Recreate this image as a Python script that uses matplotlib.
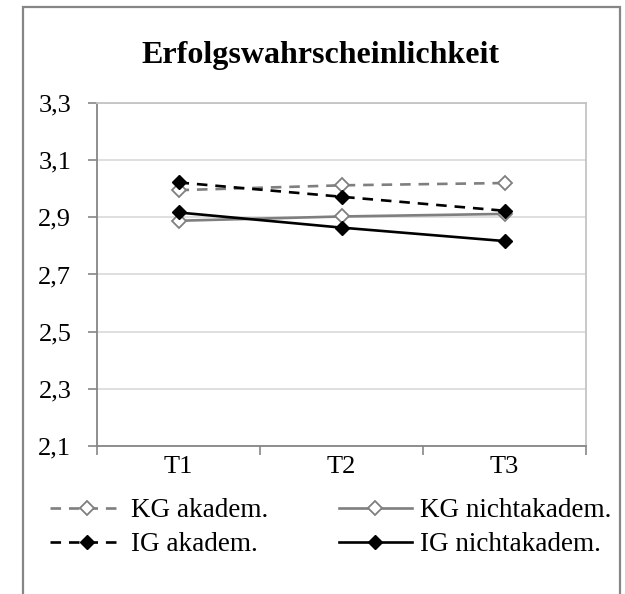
import matplotlib.pyplot as plt
from matplotlib.patches import Rectangle

# Mittelwerte je Gruppe und Messzeitpunkt
zeitpunkte = ['T1', 'T2', 'T3']
kg_akadem = [2.995, 3.012, 3.02]
kg_nichtakadem = [2.888, 2.903, 2.912]
ig_akadem = [3.022, 2.972, 2.923]
ig_nichtakadem = [2.917, 2.864, 2.817]
y_ticks = [2.1, 2.3, 2.5, 2.7, 2.9, 3.1, 3.3]

plt.rcParams['font.family'] = ['Liberation Serif', 'DejaVu Serif']

W, H = 625, 594
fig = plt.figure(figsize=(W / 100, H / 100), dpi=100)
ax = fig.add_axes([97 / W, 1 - 446 / H, 489 / W, 343 / H])

x = [i + 0.5 for i in range(len(zeitpunkte))]
grau = '#7f7f7f'
achse = '#868686'

ax.plot(x, kg_akadem, color=grau, lw=1.9, dashes=(4, 3), marker='D', ms=7.5,
        mfc='white', mec=grau, mew=1.3, label='KG akadem.', zorder=3)
ax.plot(x, ig_akadem, color='black', lw=1.9, dashes=(4, 3), marker='D', ms=7.5,
        mfc='black', mec='black', label='IG akadem.', zorder=4)
ax.plot(x, kg_nichtakadem, color=grau, lw=1.9, marker='D', ms=7.5,
        mfc='white', mec=grau, mew=1.3, label='KG nichtakadem.', zorder=3)
ax.plot(x, ig_nichtakadem, color='black', lw=1.9, marker='D', ms=7.5,
        mfc='black', mec='black', label='IG nichtakadem.', zorder=4)

ax.set_xlim(0, 3)
ax.set_ylim(2.1, 3.3)
ax.set_yticks(y_ticks)
ax.set_yticklabels([f'{v:.1f}'.replace('.', ',') for v in y_ticks])
ax.set_xticks([0, 1, 2, 3])
ax.set_xticklabels([])
ax.set_xticks(x, minor=True)
ax.set_xticklabels(zeitpunkte, minor=True)
ax.tick_params(axis='x', which='minor', length=0, pad=7, labelsize=19)
ax.tick_params(axis='x', which='major', length=6.5, width=1.2, color=achse)
ax.tick_params(axis='y', length=6.5, width=1.2, color=achse, labelsize=19,
               pad=12)

ax.grid(axis='y', color='#d9d9d9', lw=1.2)
ax.set_axisbelow(True)
for side in ['left', 'bottom']:
    ax.spines[side].set_color(achse)
    ax.spines[side].set_linewidth(1.3)
for side in ['top', 'right']:
    ax.spines[side].set_color('#c4c4c4')
    ax.spines[side].set_linewidth(1.3)

fig.text(320.5 / W, 1 - 63 / H, 'Erfolgswahrscheinlichkeit', ha='center',
         va='baseline', fontsize=23, fontweight='bold')

fig.legend(loc='upper left', bbox_to_anchor=(50 / W, 1 - 498 / H), ncol=2,
           frameon=False, fontsize=19.5, handlelength=2.7, handletextpad=0.3,
           columnspacing=2.6, labelspacing=0.35, borderpad=0, borderaxespad=0)

# Rahmen um das Diagramm
fig.patches.append(Rectangle((23 / W, -0.05), 597 / W, 1.05 - 7 / H,
                             transform=fig.transFigure, fill=False,
                             edgecolor=achse, lw=1.6))

fig.savefig('out.png', dpi=100)
